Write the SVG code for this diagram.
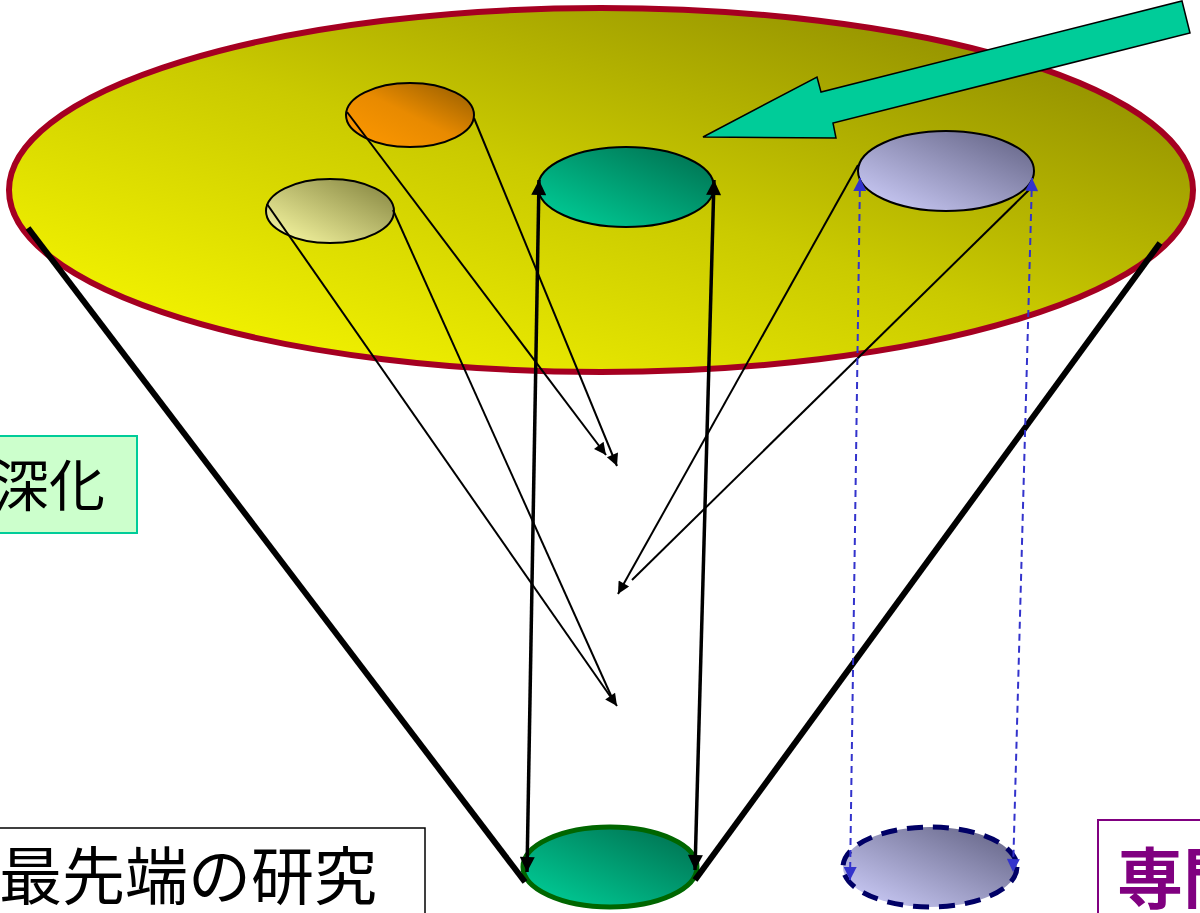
<svg xmlns="http://www.w3.org/2000/svg" width="1200" height="913" viewBox="0 0 1200 913">
<style>
.thin{stroke:#000;stroke-width:2;fill:none}
.thick{stroke:#000;stroke-width:3.5;fill:none}
.cone{stroke:#000;stroke-width:6;fill:none}
.blue{stroke:#3333CC;stroke-width:2;stroke-dasharray:7 5;fill:none}
.small{stroke:#000;stroke-width:2}
.lbl{font-family:"Noto Sans CJK JP","Noto Sans CJK SC",sans-serif}
</style>
<defs>
<linearGradient id="gBig" x1="0" y1="1" x2="1" y2="0">
<stop offset="0" stop-color="#FFFF00"/><stop offset="0.5" stop-color="#CACA00"/><stop offset="1" stop-color="#827F00"/>
</linearGradient>
<linearGradient id="gOr" x1="0" y1="1" x2="1" y2="0">
<stop offset="0" stop-color="#FF9900"/><stop offset="0.5" stop-color="#E88A00"/><stop offset="1" stop-color="#8F5A00"/>
</linearGradient>
<linearGradient id="gYel" x1="0" y1="1" x2="1" y2="0">
<stop offset="0" stop-color="#FFFFA8"/><stop offset="1" stop-color="#80803C"/>
</linearGradient>
<linearGradient id="gGr" x1="0" y1="1" x2="1" y2="0">
<stop offset="0" stop-color="#00D49C"/><stop offset="1" stop-color="#006B4C"/>
</linearGradient>
<linearGradient id="gPu" x1="0" y1="1" x2="1" y2="0">
<stop offset="0" stop-color="#D2D2FF"/><stop offset="1" stop-color="#5F5F80"/>
</linearGradient>
<marker id="ah" viewBox="0 0 10 10" refX="10" refY="5" markerWidth="16" markerHeight="12" markerUnits="userSpaceOnUse" orient="auto-start-reverse">
<path d="M0,0 L10,5 L0,10 Z" fill="#000"/>
</marker>
<marker id="ahT" viewBox="0 0 10 10" refX="10" refY="5" markerWidth="19" markerHeight="15" markerUnits="userSpaceOnUse" orient="auto-start-reverse">
<path d="M0,0 L10,5 L0,10 Z" fill="#000"/>
</marker>
<marker id="ahB" viewBox="0 0 10 10" refX="10" refY="5" markerWidth="16" markerHeight="13" markerUnits="userSpaceOnUse" orient="auto-start-reverse">
<path d="M0,0 L10,5 L0,10 Z" fill="#3333CC"/>
</marker>
</defs>
<rect width="1200" height="913" fill="#fff"/>
<g id="bigDisc">
<ellipse cx="601" cy="190" rx="592" ry="182" fill="url(#gBig)" stroke="#A50021" stroke-width="6"/>
</g>
<g id="nodeOrange"><ellipse cx="410" cy="115" rx="64" ry="32" fill="url(#gOr)" class="small"/></g>
<g id="nodeYellow"><ellipse cx="330" cy="211" rx="64" ry="32" fill="url(#gYel)" class="small"/></g>
<g id="nodeGreenTop"><ellipse cx="626" cy="187" rx="88" ry="40" fill="url(#gGr)" class="small"/></g>
<g id="nodePurpleTop"><ellipse cx="946" cy="171" rx="88" ry="40" fill="url(#gPu)" class="small"/></g>
<g id="nodeGreenBottom"><ellipse cx="610" cy="867" rx="87" ry="40" fill="url(#gGr)" stroke="#006600" stroke-width="5"/></g>
<g id="nodePurpleBottom"><ellipse cx="930" cy="867" rx="87" ry="40" fill="url(#gPu)" stroke="#000066" stroke-width="5" stroke-dasharray="16 10"/></g>
<g id="connectors">
<line class="cone" x1="28" y1="228" x2="525" y2="882"/>
<line class="cone" x1="1160" y1="243" x2="695" y2="880"/>
<line class="thin" x1="347" y1="112" x2="606" y2="455" marker-end="url(#ah)"/>
<line class="thin" x1="474" y1="118" x2="617" y2="466" marker-end="url(#ah)"/>
<line class="thin" x1="858" y1="165" x2="618" y2="594" marker-end="url(#ah)"/>
<line class="thin" x1="1033" y1="186" x2="632" y2="580"/>
<line class="thin" x1="267" y1="204" x2="617" y2="706" marker-end="url(#ah)"/>
<line class="thin" x1="393" y1="210" x2="613" y2="700"/>
<line class="thick" x1="539" y1="180" x2="527" y2="872" marker-start="url(#ahT)" marker-end="url(#ahT)"/>
<line class="thick" x1="714" y1="180" x2="695" y2="870" marker-start="url(#ahT)" marker-end="url(#ahT)"/>
<line class="blue" x1="860" y1="178" x2="850" y2="880" marker-start="url(#ahB)" marker-end="url(#ahB)"/>
<line class="blue" x1="1032" y1="178" x2="1013" y2="872" marker-start="url(#ahB)" marker-end="url(#ahB)"/>
<polygon points="1182,1 1190,33 833,123 836,138 703,137 817,77 821,92" fill="#00CC99" stroke="#000" stroke-width="1.5" stroke-linejoin="miter"/>
</g>
<g id="labelDeepen">
<rect x="-10" y="436" width="147" height="97" fill="#CCFFCC" stroke="#00CC99" stroke-width="2"/>
<text x="105" y="506" text-anchor="end" class="lbl" font-size="56" fill="#000">深化</text>
</g>
<g id="labelResearch">
<rect x="-10" y="828" width="435" height="100" fill="#fff" stroke="#000" stroke-width="1.5"/>
<text x="-1" y="899" class="lbl" font-size="63" fill="#000">最先端の研究</text>
</g>
<g id="labelSpecial">
<rect x="1098" y="820" width="120" height="110" fill="#fff" stroke="#800080" stroke-width="2"/>
<text x="1117" y="903" class="lbl" font-size="66" font-weight="bold" fill="#800080">専門</text>
</g>
</svg>
